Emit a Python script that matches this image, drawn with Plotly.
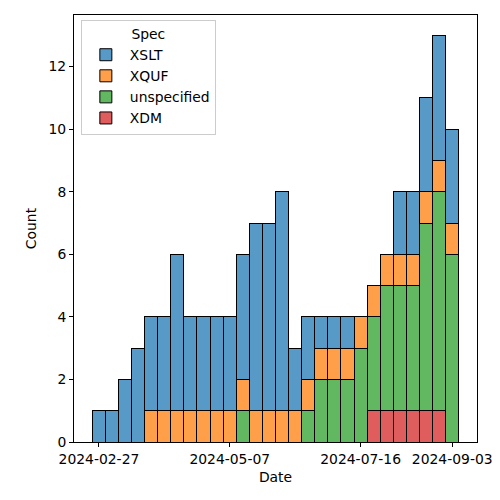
import pandas as pd
import plotly.graph_objects as go

# Weekly bins (28 bins, 7 days each)
bin_start = "2024-02-23 11:00"
bin_days = 7
n_bins = 28

series_names = ["XSLT", "XQUF", "unspecified", "XDM"]
xslt        = [1, 1, 2, 3, 3, 3, 5, 3, 3, 3, 3, 4, 6, 6, 7, 2, 2, 1, 1, 1, 0, 0, 0, 2, 2, 3, 4, 3]
xquf        = [0, 0, 0, 0, 1, 1, 1, 1, 1, 1, 1, 1, 1, 1, 1, 1, 1, 1, 1, 1, 1, 1, 1, 1, 1, 1, 1, 1]
unspecified = [0, 0, 0, 0, 0, 0, 0, 0, 0, 0, 0, 1, 0, 0, 0, 0, 1, 2, 2, 2, 3, 3, 4, 4, 4, 6, 7, 6]
xdm         = [0, 0, 0, 0, 0, 0, 0, 0, 0, 0, 0, 0, 0, 0, 0, 0, 0, 0, 0, 0, 0, 1, 1, 1, 1, 1, 1, 0]

tick_dates = ["2024-02-27", "2024-05-07", "2024-07-16", "2024-09-03"]

colors = {
    "XSLT": "rgb(87,153,199)",
    "XQUF": "rgb(255,159,74)",
    "unspecified": "rgb(97,184,97)",
    "XDM": "rgb(224,93,94)",
}

start = pd.Timestamp(bin_start)
centers = [start + pd.Timedelta(days=bin_days * i + bin_days / 2) for i in range(n_bins)]
width_ms = bin_days * 24 * 3600 * 1000
end = start + pd.Timedelta(days=bin_days * n_bins)
span = end - start
pad = span * 0.05

data = {"XSLT": xslt, "XQUF": xquf, "unspecified": unspecified, "XDM": xdm}

fig = go.Figure()
for name in ["XDM", "unspecified", "XQUF", "XSLT"]:
    vals = [v if v != 0 else None for v in data[name]]
    fig.add_trace(go.Bar(
        x=centers, y=vals, name=name, width=width_ms,
        marker=dict(color=colors[name], line=dict(color="black", width=1)),
    ))

font = dict(family="DejaVu Sans", size=13.9, color="black")
fig.update_layout(
    barmode="stack",
    width=500, height=500,
    margin=dict(l=74, r=23, t=15, b=58),
    paper_bgcolor="white", plot_bgcolor="white",
    font=font,
    showlegend=True,
    legend=dict(
        title=dict(text="Spec", side="top center", font=font),
        traceorder="reversed",
        x=0.017, y=0.988, xanchor="left", yanchor="top",
        itemwidth=38,
        bgcolor="rgba(255,255,255,0.8)", bordercolor="#cccccc", borderwidth=1,
        font=font,
    ),
    xaxis=dict(
        title=dict(text="Date", font=font, standoff=6),
        range=[start - pad, end + pad],
        tickvals=[pd.Timestamp(t) for t in tick_dates],
        ticktext=tick_dates,
        ticks="outside", ticklen=4, tickcolor="black",
        showline=True, linecolor="black", linewidth=1, mirror=True,
        showgrid=False, zeroline=False, automargin=False,
    ),
    yaxis=dict(
        title=dict(text="Count", font=font, standoff=8),
        range=[0, 13.65],
        tickvals=[0, 2, 4, 6, 8, 10, 12],
        ticks="outside", ticklen=4, tickcolor="black",
        showline=True, linecolor="black", linewidth=1, mirror=True,
        showgrid=False, zeroline=False, automargin=False,
    ),
)

fig.write_html("out.html", config={"displayModeBar": False},
               post_script="document.body.style.margin='0';")
